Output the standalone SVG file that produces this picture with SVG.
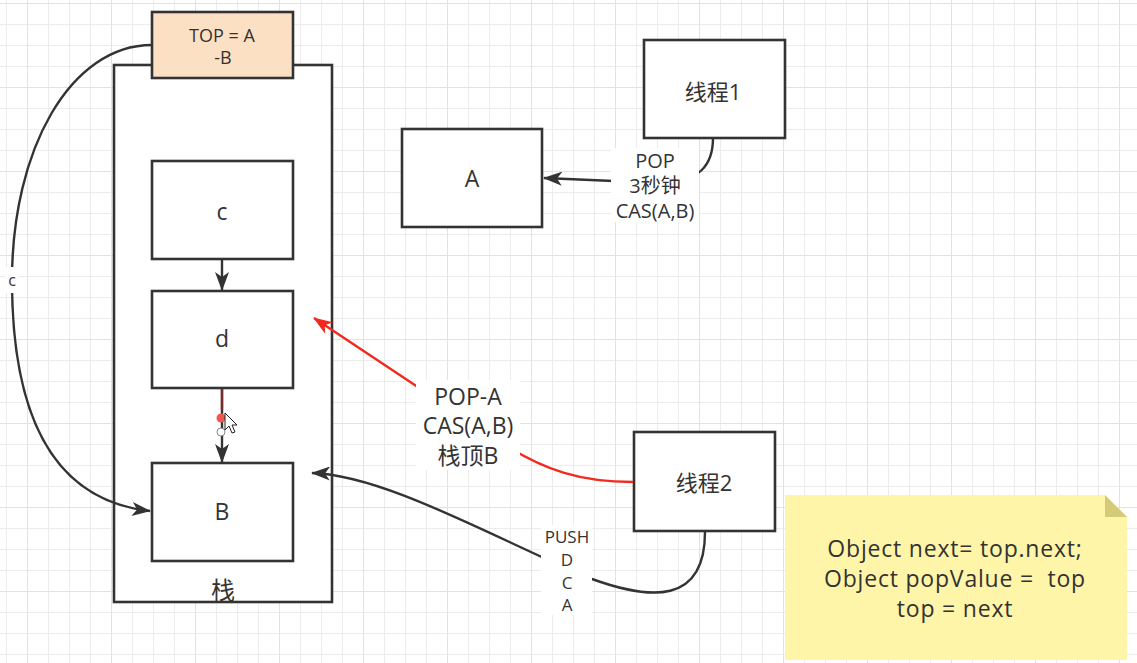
<svg xmlns="http://www.w3.org/2000/svg" width="1137" height="663" viewBox="0 0 1137 663">
<defs>
<pattern id="grid" patternUnits="userSpaceOnUse" x="27" y="3" width="84" height="84">
<rect x="0" y="0" width="84" height="84" fill="#ffffff"/>
<rect x="21" y="0" width="1" height="84" fill="#ececec"/>
<rect x="42" y="0" width="1" height="84" fill="#ececec"/>
<rect x="63" y="0" width="1" height="84" fill="#ececec"/>
<rect x="0" y="21" width="84" height="1" fill="#ececec"/>
<rect x="0" y="42" width="84" height="1" fill="#ececec"/>
<rect x="0" y="63" width="84" height="1" fill="#ececec"/>
<rect x="0" y="0" width="1" height="84" fill="#e2e2e2"/>
<rect x="0" y="0" width="84" height="1" fill="#e2e2e2"/>
</pattern>
<marker id="arr" viewBox="0 0 19 14" refX="18" refY="7" markerWidth="19" markerHeight="14" orient="auto" markerUnits="userSpaceOnUse">
<path d="M0,0 L19,7 L0,14 L5,7 z" fill="#333333"/>
</marker>
<marker id="arrRed" viewBox="0 0 19 14" refX="18" refY="7" markerWidth="19" markerHeight="14" orient="auto" markerUnits="userSpaceOnUse">
<path d="M0,0 L19,7 L0,14 L5,7 z" fill="#f2291c"/>
</marker>
</defs>
<style>
.box{fill:#ffffff;stroke:#333333;stroke-width:2.6}
.t{font-family:"Open Sans","Noto Sans CJK SC",sans-serif;fill:#333333;text-anchor:middle;dominant-baseline:central;white-space:pre}
.note{font-size:23px;letter-spacing:0.8px}
.edge{fill:none;stroke:#333333;stroke-width:2.4}
.red{fill:none;stroke:#f2291c;stroke-width:2.4}
.lbg{fill:#ffffff}
</style>
<rect x="0" y="0" width="1137" height="663" fill="url(#grid)"/>

<g id="stack">
<rect class="box" x="114" y="65" width="218" height="537"/>
<text class="t" x="223" y="589" font-size="24">栈</text>
</g>

<g id="node-top">
<rect x="152" y="12" width="141" height="66" fill="#fce0c4" stroke="#333333" stroke-width="2.6"/>
<text class="t" x="222" y="35" font-size="18">TOP = A</text>
<text class="t" x="223" y="57" font-size="18">-B</text>
</g>

<g id="node-c">
<rect class="box" x="152" y="161" width="141" height="98"/>
<text class="t" x="222" y="211" font-size="23">c</text>
</g>

<g id="node-d">
<rect class="box" x="152" y="291" width="141" height="97"/>
<text class="t" x="222" y="338" font-size="23">d</text>
</g>

<g id="node-B">
<rect class="box" x="152" y="463" width="141" height="98"/>
<text class="t" x="222" y="511" font-size="23">B</text>
</g>

<g id="node-A">
<rect class="box" x="402" y="129" width="140" height="98"/>
<text class="t" x="472" y="178" font-size="23">A</text>
</g>

<g id="node-thread1">
<rect class="box" x="644" y="40" width="141" height="98"/>
<text class="t" x="713" y="91" font-size="22">线程1</text>
</g>

<g id="node-thread2">
<rect class="box" x="634" y="432" width="141" height="99"/>
<text class="t" x="704" y="482" font-size="22">线程2</text>
</g>

<g id="note">
<path d="M785,495 L1105,495 L1127,517 L1127,660 L785,660 Z" fill="#fff5a8"/>
<path d="M1105,495 L1127,517 L1105,517 Z" fill="#d4ca78"/>
<text class="t note" x="955" y="548">Object next= top.next;</text>
<text class="t note" x="955" y="578">Object popValue =  top</text>
<text class="t note" x="955" y="608">top = next</text>
</g>

<g id="connectors">
<path class="edge" d="M152,45 C70,45 12,150 12,280 C12,410 50,500 150,511" marker-end="url(#arr)"/>
<rect class="lbg" x="5" y="267" width="14" height="26"/>
<text class="t" x="12" y="280" font-size="16">c</text>

<path class="edge" d="M222,259 L222,290" marker-end="url(#arr)"/>
<path class="edge" d="M222,388 L222,462" marker-end="url(#arr)"/>
<path d="M222,389 L222,410" stroke="#7a2a2a" stroke-width="2.4" fill="none"/>
<circle cx="221" cy="418" r="4.5" fill="#ee5a52"/>
<circle cx="221" cy="432" r="4" fill="#ffffff" stroke="#888888" stroke-width="1"/>
<path d="M225,413 L225,430 L229,426 L232,433 L235,432 L232,425 L237,425 Z" fill="#ffffff" stroke="#222222" stroke-width="1"/>

<path class="edge" d="M713,138 C713,165 700,182 660,183 L544,178" marker-end="url(#arr)"/>
<rect class="lbg" x="611" y="148" width="88" height="74"/>
<text class="t" x="655" y="160" font-size="20">POP</text>
<text class="t" x="655" y="185" font-size="20">3秒钟</text>
<text class="t" x="655" y="210" font-size="20">CAS(A,B)</text>

<path class="red" d="M633,482 C580,482 545,470 505,445 L314,318" marker-end="url(#arrRed)"/>
<rect class="lbg" x="416" y="380" width="104" height="90"/>
<text class="t" x="468" y="396" font-size="23">POP-A</text>
<text class="t" x="468" y="425" font-size="23">CAS(A,B)</text>
<text class="t" x="468" y="455" font-size="23">栈顶B</text>

<path class="edge" d="M705,532 C705,605 650,600 592,579 L566,568 C480,530 380,475 312,473" marker-end="url(#arr)"/>
<rect class="lbg" x="541" y="525" width="51" height="90"/>
<text class="t" x="567" y="536" font-size="17" fill="#555555">PUSH</text>
<text class="t" x="567" y="559" font-size="17" fill="#555555">D</text>
<text class="t" x="567" y="582" font-size="17" fill="#555555">C</text>
<text class="t" x="567" y="604" font-size="17" fill="#555555">A</text>
</g>
</svg>
